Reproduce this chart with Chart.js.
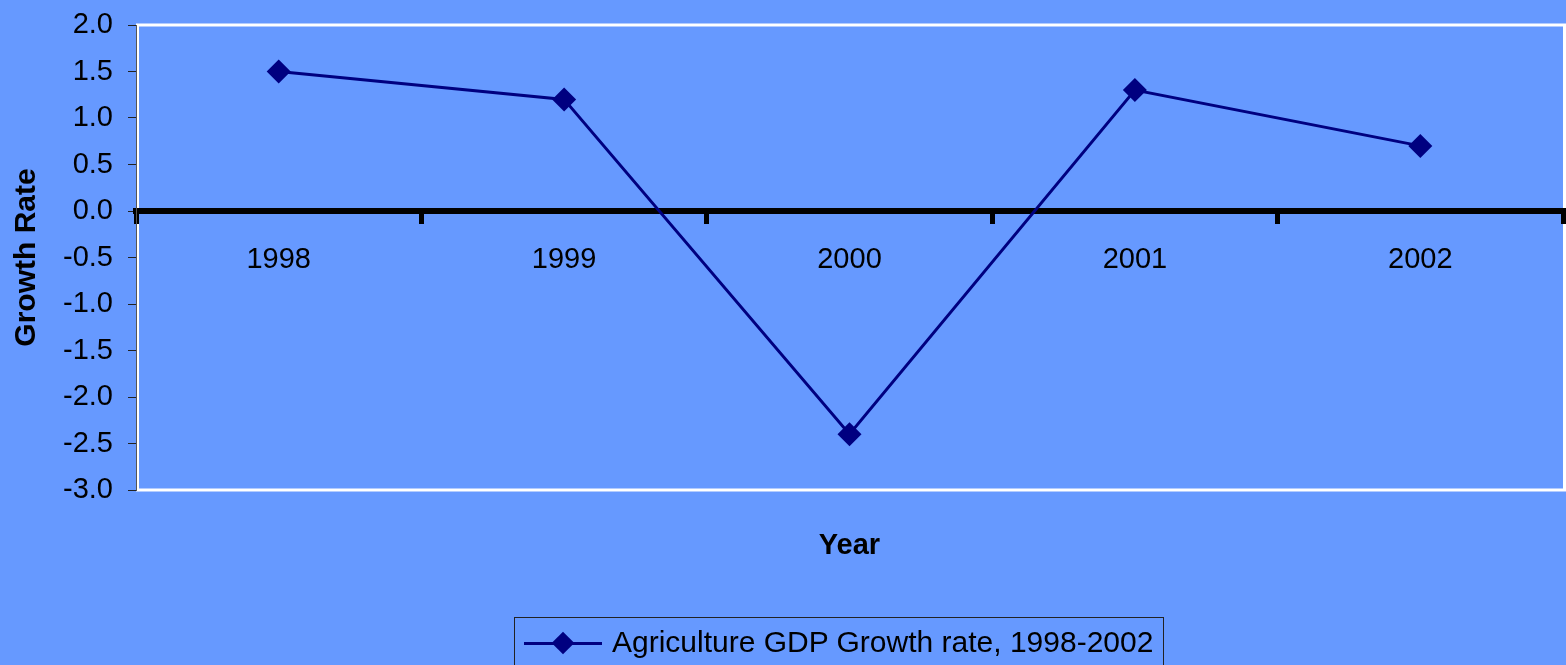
<!DOCTYPE html>
<html>
<head>
<meta charset="utf-8">
<script src="https://cdn.jsdelivr.net/npm/chart.js@4.4.1/dist/chart.umd.min.js"></script>
<style>
  html, body { margin: 0; padding: 0; background: #6699ff; overflow: hidden; }
  #wrap { position: relative; width: 1566px; height: 665px; }
  #legend {
    position: absolute; left: 514px; top: 617px; width: 650px; height: 52px;
    border: 1px solid #222; box-sizing: border-box;
    font-family: "Liberation Sans", Arial, sans-serif; font-size: 30px; color: #000;
  }
  #legend .sym { position: absolute; left: 9px; top: 24px; width: 78px; height: 3px; background: #000080; }
  #legend .dia { position: absolute; left: 40px; top: 17px; width: 16px; height: 16px; background: #000080; transform: rotate(45deg); }
  #legend .txt { position: absolute; left: 97px; top: 7px; white-space: nowrap; }
</style>
</head>
<body>
<div id="wrap">
  <canvas id="chart" width="1566" height="665"></canvas>
  <div id="legend"><div class="sym"></div><div class="dia"></div><span class="txt"></span></div>
</div>
<script>
const years = ['1998', '1999', '2000', '2001', '2002'];
const growth = [1.5, 1.2, -2.4, 1.3, 0.7];
const seriesLabel = 'Agriculture GDP Growth rate, 1998-2002';
const yMin = -3, yMax = 2, yStep = 0.5;

const font = "'Liberation Sans', Arial, sans-serif";
Chart.defaults.font.family = font;
Chart.defaults.color = '#000';

document.querySelector('#legend .txt').textContent = seriesLabel;

// white frame round the plot area
const frame = {
  id: 'frame',
  beforeDraw(chart) {
    const { ctx, chartArea: a } = chart;
    ctx.save();
    ctx.strokeStyle = '#fff';
    ctx.lineWidth = 3;
    ctx.beginPath();
    ctx.moveTo(a.left + 1.5, a.bottom);
    ctx.lineTo(a.left + 1.5, a.top);
    ctx.lineTo(a.right + 1.5, a.top);
    ctx.lineTo(a.right + 1.5, a.bottom);
    ctx.lineTo(a.left, a.bottom);
    ctx.stroke();
    ctx.restore();
  }
};

new Chart(document.getElementById('chart'), {
  type: 'line',
  data: {
    labels: years,
    datasets: [{
      label: seriesLabel,
      data: growth,
      borderColor: '#000080',
      backgroundColor: '#000080',
      borderWidth: 3,
      tension: 0,
      pointStyle: 'rectRot',
      pointRadius: 12,
      pointHoverRadius: 12,
      pointBorderWidth: 0,
      pointBackgroundColor: '#000080'
    }]
  },
  options: {
    responsive: false,
    animation: false,
    layout: { autoPadding: false, padding: { top: 25, right: 3, left: 0, bottom: 0 } },
    plugins: { legend: { display: false }, tooltip: { enabled: false } },
    scales: {
      x: {
        type: 'category',
        position: { y: 0 },
        offset: true,
        grid: { offset: true, drawOnChartArea: false, drawTicks: true, tickLength: 10, color: '#000', lineWidth: 5 },
        border: { color: '#000', width: 6 },
        ticks: { font: { size: 29 }, color: '#000', padding: 22 }
      },
      x2: {
        axis: 'x',
        type: 'category',
        position: 'bottom',
        grid: { display: false },
        border: { display: false },
        ticks: { display: false },
        title: { display: true, text: 'Year', font: { size: 29, weight: 'bold' }, color: '#000', padding: { top: 0, bottom: 102 } },
        afterFit: s => { s.height = 175; }
      },
      y: {
        min: yMin,
        max: yMax,
        ticks: { stepSize: yStep, font: { size: 29 }, color: '#000', padding: 15, callback: v => v.toFixed(1) },
        grid: { drawOnChartArea: false, drawTicks: true, tickLength: 8, color: '#222', lineWidth: 1 },
        border: { color: '#555', width: 1 },
        title: { display: true, text: 'Growth Rate', font: { size: 30, weight: 'bold' }, color: '#000', padding: { top: 9, bottom: 0 } },
        afterFit: s => { s.width = 136; s.paddingTop = 0; s.paddingBottom = 0; }
      }
    }
  },
  plugins: [frame]
});
</script>
</body>
</html>
